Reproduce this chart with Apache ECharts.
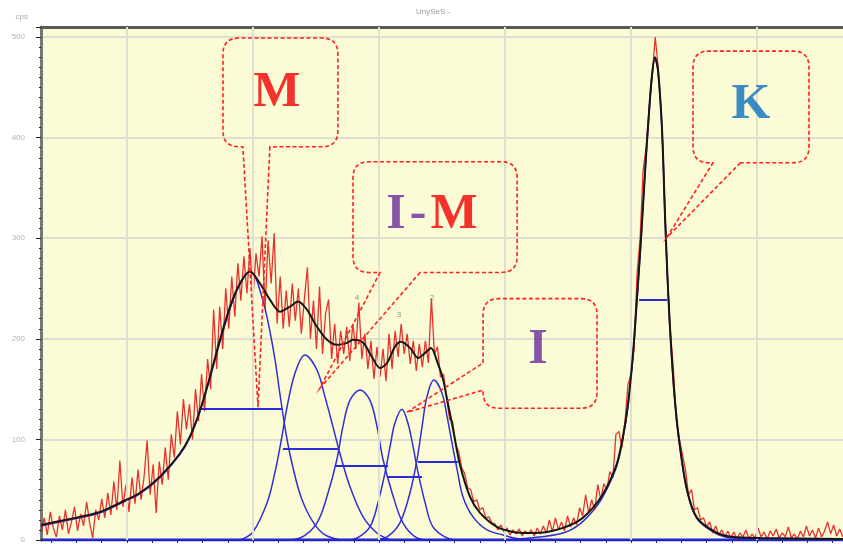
<!DOCTYPE html>
<html>
<head>
<meta charset="utf-8">
<script src="https://cdn.jsdelivr.net/npm/echarts@6/dist/echarts.min.js"></script>
<style>html,body{margin:0;padding:0;background:#fff;}#c{width:843px;height:544px;}</style>
</head>
<body>
<div id="c"></div>
<script>
// ---------- DATA ----------
const chartTitle = 'UnySeS -';
const yName = 'cps';
const yTicks = [0, 100, 200, 300, 400, 500];
const gridX = [10, 15, 20, 25, 30, 35];

// observed (noisy) intensities, evenly sampled
const obsStart = 6.6, obsStep = 0.12;
const observed = [8,22,5,28,12,3,24,10,30,6, 18,33,9,26,14,38,17,2,30,20, 41,22,47,25,58,30,79,33,55,28,
 62,36,70,40,63,99,45,75,27,78, 55,92,60,105,82,128,95,140,110,135, 100,150,118,165,128,180,150,229,170,232,
 190,250,210,262,222,275,238,282,245,290, 240,285,262,302,230,298,255,305,215,262, 210,248,212,255,218,250,205,240,271,200,
 238,190,252,185,225,239,180,215,175,208, 185,212,178,215,190,236,180,205,170,198, 160,192,162,190,158,205,170,208,182,215,
 185,205,175,198,168,195,172,198,176,240, 185,192,162,165,142,120,118,95,88,72, 66,52,50,38,40,30,32,22,23,17,
 16,10,15,8,12,5,10,6,11,4, 9,6,10,4,12,6,14,7,20,8, 22,10,18,9,24,13,22,15,32,24,
 45,27,40,30,55,40,56,50,68,62, 105,108,92,118,155,165,190,265,300,368, 390,430,462,500,470,425,350,262,208,170,
 118,100,85,70,45,50,30,32,20,22, 13,18,7,14,5,10,3,9,2,8, 1,7,3,10,1,6,2,12,3,8,
 1,9,4,11,2,7,3,13,2,6, 1,9,3,14,4,10,2,12,3,9, 18,6,15,4,11,3];

// fitted total profile
const fitX = [6.59,7.34,8.13,8.93,9.72,10.52,11.31,12.10,12.50,12.90,13.29,13.69,14.09,14.48,14.88,15.28,15.67,16.07,16.47,16.79,
 17.14,17.54,17.94,18.33,18.73,18.97,19.37,19.72,20.04,20.32,20.63,20.87,21.23,21.55,21.83,22.06,22.34,22.54,22.70,22.94,
 23.21,23.61,24.01,24.68,25.32,25.99,26.67,27.30,27.98,28.65,29.05,29.44,29.68,29.88,30.08,30.24,30.40,30.56,30.71,30.83,
 30.95,31.07,31.23,31.35,31.47,31.59,31.75,31.94,32.22,32.62,33.41,34.05,35.12,38.41];
const fitY = [15,19,23,28,37,47,63,86,103,129,162,199,232,255,267,255,239,227,232,237,
 229,212,199,194,196,199,196,182,171,176,192,197,191,181,186,191,175,160,140,110,
 75,43,27,13,8,7,8,12,20,37,53,76,103,135,186,242,301,368,424,462,
 480,467,408,321,248,192,136,93,50,22,7,3,2,1];

// fitted component peaks
const peakMX = [6.59,7.34,8.13,8.93,9.72,10.52,11.31,12.10,12.50,12.90,13.29,13.69,14.09,14.48,14.88,15.08,15.28,15.48,15.67,15.87,16.07,16.27,16.47,16.79,17.06,17.46,17.86,18.45];
const peakMY = [14,18,22,27,36,46,62,85,102,128,161,197,230,254,267,262,248,230,208,180,145,112,85,52,33,15,5,0];
const peak2X = [14.48,15.00,15.56,15.87,16.15,16.35,16.67,17.06,17.54,17.86,18.17,18.45,18.85,19.37,19.92,20.44];
const peak2Y = [0,8,37,67,103,132,166,184,169,142,113,86,53,23,7,0];
const peak3X = [16.27,16.87,17.54,17.98,18.33,18.57,18.85,19.25,19.64,19.92,20.16,20.52,20.95,21.51,22.02];
const peak3Y = [0,2,17,47,80,113,139,149,139,113,80,47,17,2,0];
const peak4X = [18.65,19.13,19.64,19.96,20.24,20.44,20.63,20.91,21.15,21.35,21.55,21.83,22.14,22.70,23.21];
const peak4Y = [0,2,13,37,67,93,116,130,116,93,67,37,13,2,0];
const peak5X = [19.84,20.32,20.83,21.23,21.51,21.71,21.90,22.18,22.50,22.70,22.90,23.10,23.33,23.73,24.29,24.92,25.60,26.39];
const peak5Y = [0,3,17,47,80,113,142,159,146,123,96,70,43,23,10,5,1,0];
const peakKX = [24.80,25.99,27.30,27.98,28.65,29.05,29.44,29.68,29.88,30.08,30.24,30.40,30.56,30.71,30.83,30.95,31.07,31.23,31.35,31.47,31.59,31.75,31.94,32.22,32.62,33.41,34.05,35.12,38.41];
const peakKY = [0,2,7,16,34,51,74,101,133,184,240,300,367,423,461,479,466,407,320,247,191,135,92,49,21,6,2,1,0];

// half-maximum widths of the components
const fwhmY = [130, 91, 74, 63, 78, 239];
const fwhmL = [12.86, 16.19, 18.25, 20.32, 21.55, 30.32];
const fwhmR = [16.15, 18.37, 20.36, 21.71, 23.13, 31.43];

// peak index labels
const peakLabels = ['4', '3', '2'];
const peakLabelX = [19.13, 20.79, 22.10];
const peakLabelY = [241, 224, 241];

// callout annotations (data coordinates)
const callouts = [
  {text:'M',   side:'bottom', left:13.81, right:18.37, top:499, bottom:391, gap:[14.60,15.67], tip:[15.20,132], at:[15.95,444]},
  {text:'I-M', side:'bottom', left:18.97, right:25.48, top:376, bottom:266, gap:[20.04,21.63], tip:[17.66,151], at:[22.10,323]},
  {text:'I',   side:'left',   left:24.13, right:28.65, top:240, bottom:131, gap:[176,149],     tip:[21.11,127], at:[26.31,189]},
  {text:'K',   side:'bottom', left:32.46, right:37.06, top:486, bottom:375, gap:[33.25,34.34], tip:[31.43,301], at:[34.76,432]}
];
const calloutRich = {'M':'{r|M}', 'I-M':'{p|I}{h|-}{r|M}', 'I':'{p|I}', 'K':'{b|K}'};

// ---------- CHART ----------
const zip = (xs, ys) => xs.map((x, i) => [x, ys[i]]);
const obsData = observed.map((v, i) => [+(obsStart + i * obsStep).toFixed(3), v]);
const xTicks = [];
for (let t = 7; t <= 38; t++) xTicks.push(t);

const blue = '#2f2fd6';
const compStyle = {color: blue, width: 1.5};
function comp(name, xs, ys) {
  return {name, type:'line', data: zip(xs, ys), smooth: 0.35, symbol:'none', lineStyle: compStyle, z: 3, silent: true};
}

const chart = echarts.init(document.getElementById('c'), null, {renderer:'canvas'});
const letterFont = {fontFamily:'Liberation Serif', fontWeight:'bold', fontSize:50};
chart.setOption({
  animation: false,
  backgroundColor: '#ffffff',
  title: {text: chartTitle, left: 411, top: 3, textStyle: {fontSize: 8, color: '#999', fontWeight: 'normal', fontFamily: 'Liberation Sans'}},
  grid: {left: 41, right: 0, top: 27, bottom: 4, show: true, backgroundColor: '#fbfbd6', borderWidth: 0},
  xAxis: [{
    type: 'value', min: 6.59, max: 38.41,
    axisLine: {show: true, lineStyle: {color: '#333', width: 2}},
    axisTick: {show: true, customValues: xTicks, length: 3, lineStyle: {color: '#333'}},
    axisLabel: {show: false}, splitLine: {show: false}
  }, {
    type: 'value', position: 'top', min: 6.59, max: 38.41,
    axisLine: {show: true, onZero: false, lineStyle: {color: '#5a5a5a', width: 3}},
    axisTick: {show: false}, axisLabel: {show: false}, splitLine: {show: false}
  }],
  yAxis: {
    type: 'value', min: 0, max: 510, interval: 100,
    name: yName, nameLocation: 'end', nameGap: 6,
    nameTextStyle: {fontSize: 8, color: '#aaa', align: 'right', padding: [0, 13, 0, 0]},
    axisLine: {show: true, lineStyle: {color: '#777', width: 3}},
    axisTick: {show: true, length: 5, lineStyle: {color: '#222'}},
    minorTick: {show: true, splitNumber: 10, length: 2, lineStyle: {color: '#222'}},
    axisLabel: {fontSize: 8, color: '#b5b5b5', margin: 16, showMaxLabel: false,
      formatter: v => (yTicks.indexOf(v) >= 0 ? String(v) : '')},
    splitLine: {show: true, lineStyle: {color: '#dfdfd2', width: 2}}
  },
  series: [
    {name:'vgrid', type:'line', data: [], z: 1, silent: true,
      markLine: {silent: true, symbol: 'none', label: {show: false},
        lineStyle: {color: '#dfdfd2', width: 2, type: 'solid'},
        data: gridX.map(v => ({xAxis: v}))}},
    comp('M', peakMX, peakMY),
    comp('P2', peak2X, peak2Y),
    comp('P3', peak3X, peak3Y),
    comp('P4', peak4X, peak4Y),
    comp('P5', peak5X, peak5Y),
    comp('K', peakKX, peakKY),
    {name:'baseline', type:'line', data: [[6.59, 0], [38.41, 0]], symbol:'none', lineStyle:{color:'#2424d0', width:3}, z: 3, silent: true},
    {name:'observed', type:'line', data: obsData, symbol:'none', lineStyle:{color:'rgba(226,0,0,0.8)', width: 1.3}, z: 4, silent: true},
    {name:'fit', type:'line', data: zip(fitX, fitY), smooth: 0.3, symbol:'none', lineStyle:{color:'#161616', width: 2}, z: 5, silent: true},
    {name:'fwhm', type:'line', data: [], z: 6, silent: true,
      markLine: {silent: true, symbol: 'none', label: {show: false},
        lineStyle: {color: '#2a2ad6', width: 2, type: 'solid'},
        data: fwhmY.map((y, i) => [{coord: [fwhmL[i], y]}, {coord: [fwhmR[i], y]}])}},
    {name:'peakLabels', type:'scatter', data: peakLabelX.map((x, i) => [x, peakLabelY[i], peakLabels[i]]),
      symbolSize: 1, itemStyle: {color: 'transparent'}, z: 7, silent: true,
      label: {show: true, position: 'inside', formatter: p => p.data[2], fontSize: 8, color: '#777'}},
    {name:'callouts', type:'custom', z: 8, silent: true, clip: false,
      data: callouts.map(c => [c.left, c.top]),
      renderItem: function (params, api) {
        const c = callouts[params.dataIndex];
        const tl = api.coord([c.left, c.top]);
        const br = api.coord([c.right, c.bottom]);
        const L = tl[0], T = tl[1], R = br[0], B = br[1], r = 16;
        const tip = api.coord(c.tip);
        let d;
        if (c.side === 'bottom') {
          const g1 = api.coord([c.gap[0], c.bottom])[0];
          const g2 = api.coord([c.gap[1], c.bottom])[0];
          d = `M${g2},${B} L${tip[0]},${tip[1]} L${g1},${B} L${L + r},${B} Q${L},${B} ${L},${B - r} L${L},${T + r} Q${L},${T} ${L + r},${T} L${R - r},${T} Q${R},${T} ${R},${T + r} L${R},${B - r} Q${R},${B} ${R - r},${B} Z`;
        } else {
          const g1 = api.coord([c.left, c.gap[0]])[1];
          const g2 = api.coord([c.left, c.gap[1]])[1];
          d = `M${L},${g1} L${L},${T + r} Q${L},${T} ${L + r},${T} L${R - r},${T} Q${R},${T} ${R},${T + r} L${R},${B - r} Q${R},${B} ${R - r},${B} L${L + r},${B} Q${L},${B} ${L},${B - r} L${L},${g2} L${tip[0]},${tip[1]} Z`;
        }
        return {type: 'path', shape: {pathData: d},
          style: {fill: 'none', stroke: '#ff2020', lineWidth: 1.6, lineDash: [4, 2.5]}};
      }},
    {name:'calloutText', type:'scatter', z: 9, silent: true,
      data: callouts.map(c => [c.at[0], c.at[1], c.text]),
      symbolSize: 1, itemStyle: {color: 'transparent'},
      label: {show: true, position: 'inside', formatter: p => calloutRich[p.data[2]],
        rich: {
          r: Object.assign({color: '#f00000'}, letterFont),
          p: Object.assign({color: '#6a2c9c'}, letterFont),
          h: Object.assign({color: '#6a2c9c', padding: [0, 4, 0, 4]}, letterFont),
          b: Object.assign({color: '#0b6fbf'}, letterFont)
        }}}
  ]
});
</script>
</body>
</html>
